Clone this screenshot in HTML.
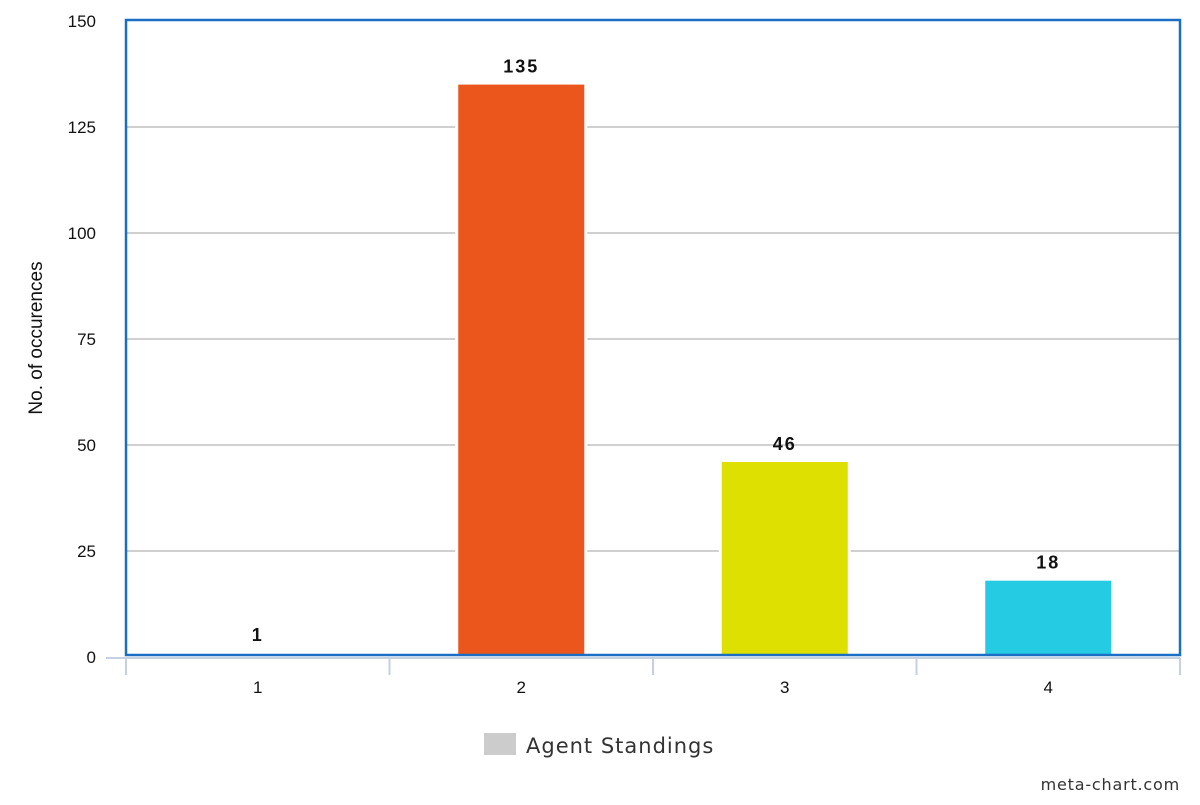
<!DOCTYPE html>
<html><head><meta charset="utf-8"><style>
body{margin:0;background:#fff;width:1200px;height:800px;overflow:hidden;font-family:"Liberation Sans",sans-serif}
</style></head><body>
<svg id="chart" width="1200" height="800">
<defs><clipPath id="pc"><rect x="126" y="20" width="1054" height="635"/></clipPath></defs>
<g id="grid"></g>
<g id="bars" clip-path="url(#pc)"></g>
<rect x="126" y="20" width="1054" height="635" fill="none" stroke="#1a6fc4" stroke-width="2.5"/>
<g id="labels"></g>
<g id="axes"></g>
<text x="42" y="338" transform="rotate(-90 42 338)" text-anchor="middle" font-size="19" fill="#111">No. of occurences</text>
<g>
<rect x="484" y="733" width="32" height="22" fill="#cccccc"/>
<text x="526" y="753" font-family="DejaVu Sans, sans-serif" font-size="21" letter-spacing="1" fill="#333">Agent Standings</text>
</g>
<text x="1180" y="790" text-anchor="end" font-family="DejaVu Sans, sans-serif" font-size="16" letter-spacing="0.8" fill="#333">meta-chart.com</text>
</svg>
<script>
const categories = ["1","2","3","4"];
const values = [1,135,46,18];
const colors = ["#ffffff","#eb561c","#dde000","#25cbe3"];
const yTicks = [0,25,50,75,100,125,150];
const NS="http://www.w3.org/2000/svg";
const L=126,R=1180,Y0=657,PX=4.24;
const y=v=>Y0-v*PX;
const band=(R-L)/categories.length;
const xc=i=>L+band*(i+0.5);
function mk(tag,attrs,parent,text){const e=document.createElementNS(NS,tag);for(const k in attrs)e.setAttribute(k,attrs[k]);if(text!==undefined)e.textContent=text;parent.appendChild(e);return e;}
const grid=document.getElementById('grid'),bars=document.getElementById('bars'),axes=document.getElementById('axes'),labels=document.getElementById('labels');
yTicks.forEach(t=>{
  if(t>0&&t<150){const g=mk('line',{x1:L,x2:R,y1:y(t),y2:y(t),stroke:'#c0c0c0','stroke-width':1.5},grid);
  
  }
  const tl=mk('text',{x:96,y:y(t)+6,'text-anchor':'end','font-size':17,fill:'#111'},axes,String(t));
  
  
});
const ax=mk('line',{x1:106,x2:R,y1:658,y2:658,stroke:'#c5d0e0','stroke-width':2},axes);


for(let i=0;i<=categories.length;i++){const tk=mk('line',{x1:L+band*i,x2:L+band*i,y1:658,y2:675,stroke:'#c5d0e0','stroke-width':2},axes);

}
categories.forEach((c,i)=>{
  const bw=126,x=xc(i)-bw/2,top=y(values[i]);
  const bg=mk('rect',{x:x-3,y:top,width:bw+6,height:Y0-top,fill:'#fff'},bars);
  
  
  const b=mk('rect',{x:x,y:top,width:bw,height:Y0-top,fill:colors[i]},bars);
  
  
  const vl=mk('text',{x:xc(i),y:top-12,'text-anchor':'middle','font-size':18,'font-weight':'bold',fill:'#111','letter-spacing':'2'},labels,String(values[i]));
  
  
  const xl=mk('text',{x:xc(i),y:693,'text-anchor':'middle','font-size':17,fill:'#111'},axes,c);
  
  
});
</script>
</body></html>
